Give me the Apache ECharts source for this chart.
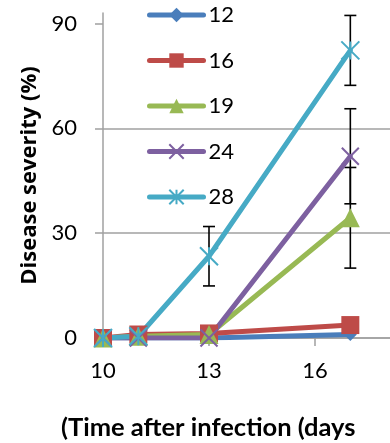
<!DOCTYPE html>
<html>
<head>
<meta charset="utf-8">
<script src="https://cdn.jsdelivr.net/npm/echarts@6/dist/echarts.min.js"></script>
<style>
  html, body { margin: 0; padding: 0; background: #fff; }
  #chart { width: 390px; height: 443px; }
</style>
</head>
<body>
<div id="chart"></div>
<script>
// Days after infection at which severity was scored
const days = [10, 11, 13, 17];

// Mean disease severity (%) per temperature treatment
const sev12 = [0, 0, 0, 1];
const sev16 = [0, 1, 1.3, 3.7];
const sev19 = [0, 0.5, 1, 34.4];
const sev24 = [0, 0, 0, 52];
const sev28 = [0, 0.5, 23.4, 82.3];

// Error bar half-widths (null = no bar drawn)
const err19 = [null, null, null, 14.4];
const err24 = [null, null, null, 13.6];
const err28 = [null, null, 8.5, 10];

const seriesNames = ['12', '16', '19', '24', '28'];
const yTickValues = [0, 30, 60, 90];
const xTickValues = [10, 13, 16];

const FONT = 'Lato, "Open Sans", sans-serif';
const TITLE_FONT = '"Open Sans", Lato, sans-serif';
const GRID_GREY = '#a0a0a0';

const COLORS = {
  c12: '#4a7ebb',
  c16: '#be4b48',
  c19: '#98b954',
  c24: '#7d60a0',
  c28: '#46aac5'
};

function pairs(values) {
  return days.map((d, i) => [d, values[i]]);
}

function lineSeries(name, values, color, symbol, size, stroked) {
  return {
    name: name,
    type: 'line',
    data: pairs(values),
    symbol: symbol,
    symbolSize: size,
    z: 2,
    lineStyle: { color: color, width: 5, cap: 'round', join: 'round' },
    itemStyle: stroked
      ? { color: color, borderColor: color, borderWidth: 2 }
      : { color: color, borderWidth: 0 },
    emphasis: { disabled: true },
    animation: false
  };
}

function errorBars(values, errs) {
  const data = [];
  days.forEach((d, i) => {
    if (errs[i] != null) data.push([d, values[i] - errs[i], values[i] + errs[i]]);
  });
  return {
    type: 'custom',
    data: data,
    z: 1,
    silent: true,
    animation: false,
    encode: { x: 0, y: [1, 2] },
    renderItem: function (params, api) {
      const x = api.value(0);
      const lo = api.coord([x, api.value(1)]);
      const hi = api.coord([x, api.value(2)]);
      const w = 6;
      const style = { stroke: '#000', lineWidth: 1.6 };
      return {
        type: 'group',
        children: [
          { type: 'line', shape: { x1: lo[0], y1: lo[1], x2: hi[0], y2: hi[1] }, style: style },
          { type: 'line', shape: { x1: lo[0] - w, y1: lo[1], x2: lo[0] + w, y2: lo[1] }, style: style },
          { type: 'line', shape: { x1: hi[0] - w, y1: hi[1], x2: hi[0] + w, y2: hi[1] }, style: style }
        ]
      };
    }
  };
}

const chart = echarts.init(document.getElementById('chart'), null, { renderer: 'canvas' });

chart.setOption({
  backgroundColor: '#fff',
  animation: false,
  title: {
    text: '(Time after infection (days',
    left: 61,
    top: 415,
    padding: 0,
    textStyle: { fontFamily: FONT, fontSize: 25.5, fontWeight: 'bold', color: '#000' }
  },
  legend: {
    orient: 'vertical',
    left: 147,
    top: 4,
    padding: 0,
    itemWidth: 54,
    itemHeight: 18,
    itemGap: 23.5,
    data: seriesNames,
    lineStyle: { width: 5, cap: 'round' },
    textStyle: { fontFamily: FONT, fontSize: 22, color: '#000', lineHeight: 22 },
    selectedMode: false
  },
  grid: {
    left: 103,
    right: -31,
    top: 13,
    bottom: 105,
    outerBoundsMode: 'none'
  },
  xAxis: {
    type: 'value',
    min: 10,
    max: 19,
    interval: 3,
    axisLine: { show: true, onZero: false, lineStyle: { color: GRID_GREY, width: 1.5 } },
    axisTick: { show: true, length: 8, customValues: xTickValues, lineStyle: { color: GRID_GREY, width: 1.5 } },
    axisLabel: { customValues: xTickValues, margin: 22, fontFamily: FONT, fontSize: 22, color: '#000' },
    splitLine: { show: false }
  },
  yAxis: {
    type: 'value',
    min: 0,
    max: 93,
    interval: 30,
    name: 'Disease severity (%)',
    nameLocation: 'middle',
    nameGap: 58,
    nameTextStyle: { fontFamily: TITLE_FONT, fontSize: 22, fontWeight: 'bold', color: '#000' },
    axisLine: { show: true, lineStyle: { color: GRID_GREY, width: 1.5 } },
    axisTick: { show: true, length: 8, customValues: yTickValues, lineStyle: { color: GRID_GREY, width: 1.5 } },
    axisLabel: { customValues: yTickValues, margin: 26, fontFamily: FONT, fontSize: 22, color: '#000' },
    splitLine: { show: true, showMaxLine: false, lineStyle: { color: GRID_GREY, width: 1.5 } }
  },
  series: [
    errorBars(sev19, err19),
    errorBars(sev24, err24),
    errorBars(sev28, err28),
    lineSeries('12', sev12, COLORS.c12, 'diamond', 13, false),
    lineSeries('16', sev16, COLORS.c16, 'rect', 18, false),
    lineSeries('19', sev19, COLORS.c19, 'triangle', 19, false),
    lineSeries('24', sev24, COLORS.c24, 'path://M0,0L10,10M10,0L0,10', 17, true),
    lineSeries('28', sev28, COLORS.c28, 'path://M0,0L10,10M10,0L0,10M5,0L5,10', 18, true)
  ]
});
</script>
</body>
</html>
